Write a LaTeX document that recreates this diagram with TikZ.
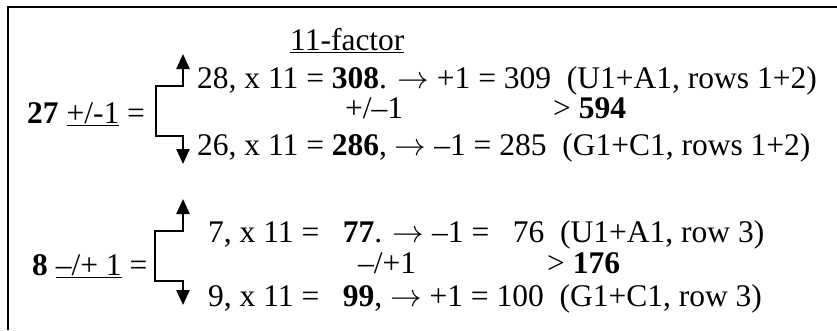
\RequirePackage{fix-cm}
\documentclass[tikz,border=0pt]{standalone}
\usepackage{fontspec}
\setmainfont{Liberation Serif}
\usetikzlibrary{arrows.meta,positioning}
\newcommand{\ra}{\(\rightarrow\)}

\begin{document}
\begin{tikzpicture}[
  x=1pt, y=-1pt,
  txt/.style={anchor=base west,inner sep=0pt,font=\fontsize{31.5}{36}\selectfont},
  brk/.style={{Triangle[length=15pt,width=13pt]}-{Triangle[length=15pt,width=13pt]},line width=2.4pt}
]
\useasboundingbox (0,0) rectangle (837,330);
\draw[line width=2pt] (8,330) -- (8,7) -- (837,7);

% upper block
\node[txt] (fac) at (290,50) {\underline{11-factor}};
\node[txt] (lab1) at (27,123) {\textbf{27} \underline{+/-1} =};
\node[txt] (r1) at (197,88) {28, x 11 = \textbf{308}. \ra{} +1 = 309\ \ (U1+A1, rows 1+2)};
\node[txt] (m1) at (345,118) {+/–1};
\node[txt] (s1) at (553,118) {> \textbf{594}};
\node[txt] (r3) at (197,155) {26, x 11 = \textbf{286}, \ra{} –1 = 285\ \ (G1+C1, rows 1+2)};

\coordinate (k1t) at (156,86);
\coordinate (k1b) at (156,136);
\coordinate (up1) at (183,54);
\coordinate (dn1) at (183,164);
\draw[brk] (up1) |- (k1t) -- (k1b) -| (dn1);

% lower block
\node[txt] (lab2) at (32,275) {\textbf{8} \underline{–/+ 1} =};
\node[txt] (r4) at (208,242) {7, x 11 =\ \ \ \textbf{77}. \ra{} –1 = \hphantom{0}76\ \ (U1+A1, row 3)};
\node[txt] (m2) at (358,273) {–/+1};
\node[txt] (s2) at (547,273) {> \textbf{176}};
\node[txt] (r6) at (208,306) {9, x 11 =\ \ \ \textbf{99}, \ra{} +1 = 100\ \ (G1+C1, row 3)};

\coordinate (k2t) at (155,231);
\coordinate (k2b) at (155,281);
\coordinate (up2) at (183,199);
\coordinate (dn2) at (183,305);
\draw[brk] (up2) |- (k2t) -- (k2b) -| (dn2);
\end{tikzpicture}
\end{document}
